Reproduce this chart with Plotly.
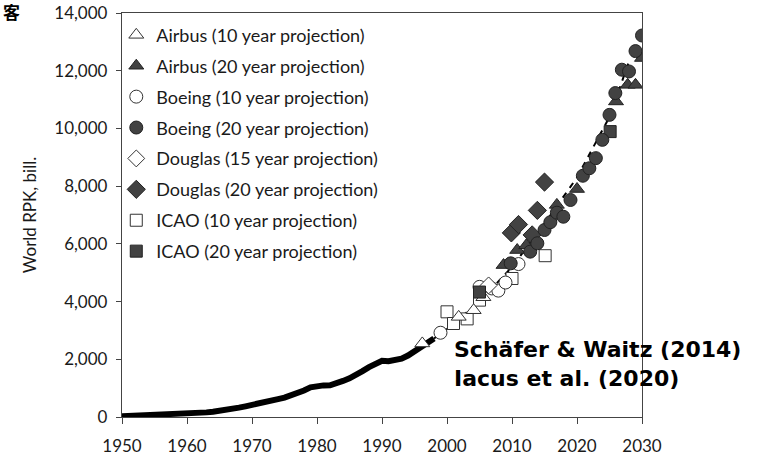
import plotly.graph_objects as go

# Historical world RPK (billions)
hist_years = list(range(1950, 1999))
hist_rpk = [28, 35, 42, 50, 58, 66, 77, 88, 95, 108,
            118, 128, 143, 160, 185, 210, 240, 285, 325, 370,
            410, 450, 510, 570, 620, 670, 740, 830, 920, 1030,
            1080, 1095, 1100, 1150, 1250, 1340, 1450, 1590, 1730, 1850,
            1950, 1930, 1980, 2020, 2130, 2280, 2430, 2600, 2720]

# Dashed trend through projections
trend_years = [1998, 2000, 2005, 2010, 2015, 2020, 2022, 2025, 2028]
trend_rpk = [2720, 3050, 4000, 5200, 6700, 8300, 9140, 10400, 12320]

airbus10_x = [1996.2, 2001.8, 2004.1, 2005.6]
airbus10_y = [2550, 3470, 3700, 4150]
airbus20_x = [2008.7, 2010.8, 2012.2, 2016.9, 2020.0, 2026.0, 2027.8, 2029.0, 2030.0]
airbus20_y = [5265, 5785, 5950, 7350, 7900, 10935, 11510, 11510, 12440]
boeing10_x = [1999.0, 2005.0, 2006.9, 2007.9, 2009.0, 2011.0]
boeing10_y = [2920, 4510, 4455, 4380, 4660, 5300]
boeing20_x = [2009.8, 2012.8, 2013.9, 2015.0, 2015.9, 2016.9, 2017.9, 2019.0, 2020.9,
              2021.9, 2022.9, 2023.9, 2025.0, 2025.9, 2026.9, 2028.0, 2029.0, 2030.0]
boeing20_y = [5325, 5730, 6020, 6480, 6750, 7080, 6940, 7520, 8360,
              8620, 8970, 9605, 10470, 11225, 12035, 11975, 12680, 13220]
douglas15_x = [2006.4]
douglas15_y = [4560]
douglas20_x = [2009.9, 2011.0, 2013.1, 2013.9, 2015.0]
douglas20_y = [6380, 6670, 6310, 7160, 8140]
icao10_x = [2000.0, 2001.0, 2003.1, 2005.0, 2010.0, 2015.1]
icao10_y = [3645, 3240, 3400, 4050, 4800, 5590]
icao20_x = [2005.0, 2025.1]
icao20_y = [4330, 9890]

names = ["Airbus (10 year projection)", "Airbus (20 year projection)",
         "Boeing (10 year projection)", "Boeing (20 year projection)",
         "Douglas (15 year projection)", "Douglas (20 year projection)",
         "ICAO (10 year projection)", "ICAO (20 year projection)"]

x_ticks = [1950, 1960, 1970, 1980, 1990, 2000, 2010, 2020, 2030]
y_ticks = [0, 2000, 4000, 6000, 8000, 10000, 12000, 14000]

DARK = "#424242"
EDGE = "#222222"
OPEN_EDGE = "#333333"

fig = go.Figure()

fig.add_trace(go.Scatter(x=hist_years, y=hist_rpk, mode="lines",
                         line=dict(color="black", width=6), showlegend=False,
                         hoverinfo="skip"))
fig.add_trace(go.Scatter(x=trend_years, y=trend_rpk, mode="lines",
                         line=dict(color="black", width=2, dash="6px,6px"),
                         showlegend=False, hoverinfo="skip"))

def add(xs, ys, name, symbol, filled, size, rank):
    fig.add_trace(go.Scatter(
        x=xs, y=ys, mode="markers", name=name, legendrank=rank,
        legendgroup=name,
        marker=dict(symbol=symbol, size=size,
                    color=DARK if filled else "white",
                    line=dict(color=EDGE if filled else OPEN_EDGE, width=1))))

add(icao10_x, icao10_y, names[6], "square", False, 12, 7)
add(boeing10_x, boeing10_y, names[2], "circle", False, 13, 3)
add(airbus10_x, airbus10_y, names[0], "triangle-up", False, 13, 1)
add(douglas15_x, douglas15_y, names[4], "diamond", False, 13, 5)
add(icao20_x, icao20_y, names[7], "square", True, 12, 8)
add(airbus20_x, airbus20_y, names[1], "triangle-up", True, 13, 2)
add(douglas20_x, douglas20_y, names[5], "diamond", True, 14, 6)
add(boeing20_x, boeing20_y, names[3], "circle", True, 13, 4)

axis_common = dict(showline=True, linecolor="#444444", linewidth=1.3, mirror=True,
                   ticks="outside", tickcolor="#444444", tickwidth=1.3,
                   showgrid=False, zeroline=False, automargin=False,
                   ticklabeloverflow="allow",
                   tickfont=dict(family="Lato", size=17, color="#1a1a1a"))

fig.update_xaxes(range=[1950, 2030], tickvals=x_ticks,
                 ticktext=[str(v) for v in x_ticks], ticklen=6,
                 ticklabelstandoff=7, **axis_common)
fig.update_yaxes(range=[0, 14000], tickvals=y_ticks, ticklen=5,
                 ticktext=[f"{v:,}" for v in y_ticks], ticklabelstandoff=5,
                 title=dict(text="World RPK, bill.", standoff=13,
                            font=dict(family="Lato", size=17, color="#1a1a1a")),
                 **axis_common)

fig.add_annotation(text="<b>Schäfer & Waitz (2014)<br>Iacus et al. (2020)</b>",
                   xref="paper", yref="paper", x=0.635, y=0.1306,
                   xanchor="left", yanchor="middle", align="left", showarrow=False,
                   font=dict(family="DejaVu Sans", size=22, color="black"))
fig.add_annotation(text="<b>客</b>", xref="paper", yref="paper",
                   x=(11 - 121.7) / 520, y=(416.7 - 12) / 403.4,
                   xanchor="center", yanchor="middle",
                   showarrow=False,
                   font=dict(family="Noto Sans CJK JP", size=17, color="black"))

fig.update_layout(
    width=762, height=456,
    margin=dict(l=121.7, r=120.3, t=13.3, b=39.3, autoexpand=False),
    paper_bgcolor="white", plot_bgcolor="white",
    showlegend=True,
    legend=dict(x=-0.011, y=0.991, xanchor="left", yanchor="top",
                bgcolor="rgba(0,0,0,0)", tracegroupgap=4.5, itemwidth=30,
                font=dict(family="Lato", size=18, color="#1a1a1a")),
)

fig.write_html("out.html", config={"displayModeBar": False},
               post_script="document.body.style.margin='0';"
                           "document.body.style.overflow='hidden';")
